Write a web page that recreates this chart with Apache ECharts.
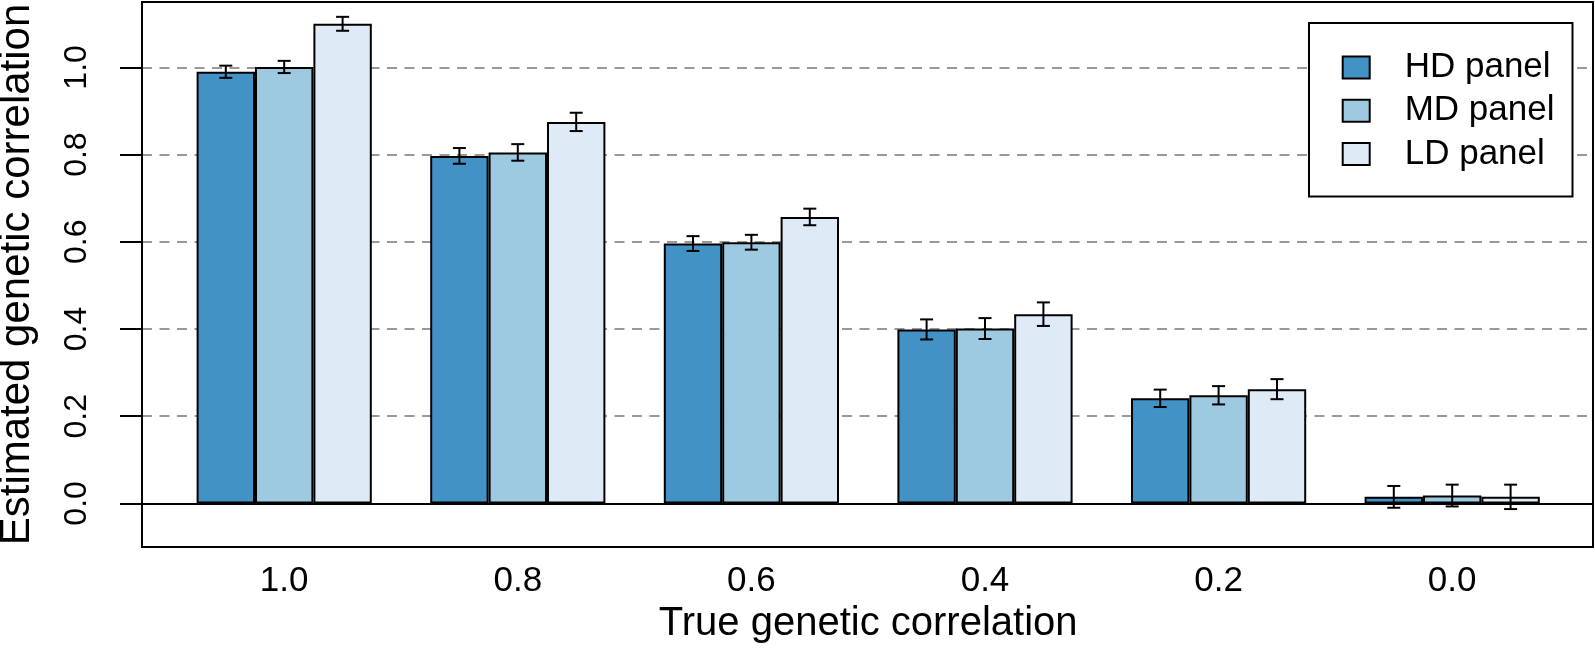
<!DOCTYPE html>
<html>
<head>
<meta charset="utf-8">
<script src="https://cdn.jsdelivr.net/npm/echarts@6/dist/echarts.min.js"></script>
<style>
html,body{margin:0;padding:0;background:#fff;}
#chart{width:1595px;height:650px;}
</style>
</head>
<body>
<div id="chart"></div>
<script>
const categories = ['1.0', '0.8', '0.6', '0.4', '0.2', '0.0'];
const seriesNames = ['HD panel', 'MD panel', 'LD panel'];
const hdValues = [0.990, 0.797, 0.596, 0.399, 0.241, 0.015];
const mdValues = [1.001, 0.805, 0.599, 0.401, 0.248, 0.018];
const ldValues = [1.100, 0.875, 0.657, 0.434, 0.262, 0.015];
const hdErrors = [0.014, 0.018, 0.017, 0.023, 0.020, 0.025];
const mdErrors = [0.014, 0.019, 0.017, 0.024, 0.021, 0.025];
const ldErrors = [0.016, 0.021, 0.019, 0.027, 0.023, 0.028];
const yTickMin = 0, yTickMax = 1.0, yTickStep = 0.2;

const colors = ['#4292c6', '#9ecae1', '#deebf7'];
const FONT = "'Liberation Sans', Arial, Helvetica, sans-serif";

const values = [hdValues, mdValues, ldValues];
const errors = [hdErrors, mdErrors, ldErrors];

const chart = echarts.init(document.getElementById('chart'), null, {renderer: 'canvas'});

function errRenderer(k) {
  return function (params, api) {
    const c = api.value(0), v = api.value(1), e = api.value(2);
    const band = api.size([1, 0])[0];
    const off = (k - 1) * band * 0.25;
    const top = api.coord([c, v + e]);
    const bot = api.coord([c, v - e]);
    const x = top[0] + off;
    const hw = 6.5;
    const st = {stroke: '#000', lineWidth: 2, fill: null};
    return {
      type: 'group',
      children: [
        {type: 'line', shape: {x1: x, y1: top[1], x2: x, y2: bot[1]}, style: st},
        {type: 'line', shape: {x1: x - hw, y1: top[1], x2: x + hw, y2: top[1]}, style: st},
        {type: 'line', shape: {x1: x - hw, y1: bot[1], x2: x + hw, y2: bot[1]}, style: st}
      ]
    };
  };
}

const barSeries = seriesNames.map((name, k) => ({
  name: name,
  type: 'bar',
  xAxisIndex: 2,
  yAxisIndex: 2,
  data: values[k],
  barGap: '0%',
  barCategoryGap: '25%',
  itemStyle: {color: colors[k], borderColor: '#000', borderWidth: 2},
  z: 2
}));

const errSeries = seriesNames.map((name, k) => ({
  type: 'custom',
  xAxisIndex: 2,
  yAxisIndex: 2,
  renderItem: errRenderer(k),
  data: categories.map((c, i) => [i, values[k][i], errors[k][i]]),
  z: 4,
  silent: true
}));

const option = {
  animation: false,
  backgroundColor: '#fff',
  textStyle: {fontFamily: FONT, color: '#000'},
  grid: [
    {left: 142, top: 2, width: 1451, height: 545, show: true, borderColor: '#000', borderWidth: 2, backgroundColor: 'transparent', containLabel: false, outerBoundsMode: 'none', z: 5},
    {left: 142, top: 67.4, width: 1451, height: 436, containLabel: false, outerBoundsMode: 'none'},
    {left: 167.4, top: 2, width: 1401.6, height: 545, containLabel: false, outerBoundsMode: 'none'}
  ],
  xAxis: [
    {gridIndex: 0, type: 'value', min: 0, max: 1, show: false},
    {gridIndex: 1, type: 'value', min: 0, max: 1,
      axisLine: {show: true, onZero: false, lineStyle: {color: '#000', width: 2}},
      axisTick: {show: false}, axisLabel: {show: false}, splitLine: {show: false}},
    {gridIndex: 2, type: 'category', data: categories,
      axisLine: {show: false}, axisTick: {show: false},
      axisLabel: {fontSize: 35, color: '#000', margin: 17, fontFamily: FONT},
      name: 'True genetic correlation', nameLocation: 'middle', nameGap: 44,
      nameTextStyle: {fontSize: 40, color: '#000', fontFamily: FONT}}
  ],
  yAxis: [
    {gridIndex: 0, type: 'value', min: 0, max: 1,
      axisLine: {show: false}, axisTick: {show: false}, axisLabel: {show: false}, splitLine: {show: false},
      name: 'Estimated genetic correlation', nameLocation: 'middle', nameRotate: 90, nameGap: 104,
      nameTextStyle: {fontSize: 42, color: '#000', fontFamily: FONT}},
    {gridIndex: 1, type: 'value', min: yTickMin, max: yTickMax, interval: yTickStep,
      axisLine: {show: false},
      axisTick: {show: true, inside: false, length: 22, lineStyle: {color: '#000', width: 2}},
      axisLabel: {rotate: 90, fontSize: 32, color: '#000', margin: 49, fontFamily: FONT,
        formatter: v => v.toFixed(1)},
      splitLine: {show: true, lineStyle: {color: '#999', width: 2, type: [10, 7.5]}}},
    {gridIndex: 2, type: 'value', min: -0.1, max: 1.15, show: false}
  ],
  legend: {
    data: seriesNames,
    orient: 'vertical',
    left: 1309,
    top: 23,
    padding: [27, 18, 25, 32.7],
    itemWidth: 27,
    itemHeight: 22,
    itemGap: 8.3,
    icon: 'rect',
    backgroundColor: '#fff',
    borderColor: '#000',
    borderWidth: 2,
    borderRadius: 0,
    textStyle: {fontSize: 35, color: '#000', fontFamily: FONT, padding: [0, 0, 0, 30]},
    z: 10
  },
  series: barSeries.concat(errSeries)
};

chart.setOption(option);
</script>
</body>
</html>
